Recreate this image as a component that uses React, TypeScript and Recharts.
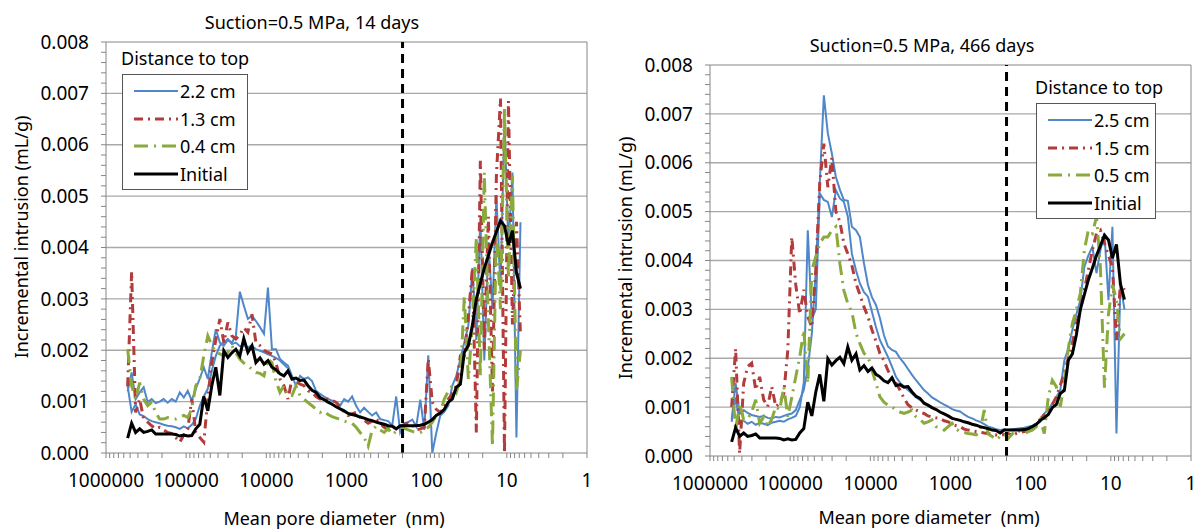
import { LineChart, Line, XAxis, YAxis, ReferenceLine } from 'recharts';

// mean pore diameter (nm), shared by every curve
const diam = [
  537000, 479000, 427000, 380000, 339000, 302000, 269000, 240000, 214000, 191000, 170000, 151000, 135000, 120000, 107000,
  95500, 85100, 75900, 67600, 60300,
  53700, 47900, 42700, 38000, 33900, 30200, 26900, 24000, 21400, 19100, 17000, 15100, 13500, 12000, 10700,
  9550, 8510, 7590, 6760, 6030,
  5370, 4790, 4270, 3800, 3390, 3020, 2690, 2400, 2140, 1910, 1700, 1510, 1350, 1200, 1070,
  955, 851, 759, 676, 603,
  537, 479, 427, 380, 339, 302, 269, 240, 214, 191, 170, 151, 135, 120, 107,
  95.5, 85.1, 75.9, 67.6, 60.3,
  53.7, 47.9, 42.7, 38.0, 33.9, 30.2, 26.9, 24.0, 21.4, 19.1, 17.0, 15.1, 13.5, 12.0, 10.7,
  9.55, 8.51, 7.59, 6.76,
];

// incremental intrusion, in 10^-3 mL/g
const initial = [
  0.29, 0.58, 0.40, 0.47, 0.40, 0.42, 0.45, 0.37, 0.37, 0.37, 0.37, 0.37, 0.36, 0.33, 0.35,
  0.33, 0.34, 0.47, 0.56, 1.10,
  0.82, 1.31, 1.67, 1.12, 1.99, 1.86, 1.95, 2.02, 1.89, 2.23, 1.96, 2.09, 1.76, 1.85, 1.73,
  1.80, 1.67, 1.62, 1.54, 1.50,
  1.60, 1.44, 1.46, 1.41, 1.42, 1.31, 1.22, 1.18, 1.08, 1.04, 0.99, 0.95, 0.90, 0.86, 0.82,
  0.77, 0.75, 0.73, 0.70, 0.68,
  0.65, 0.63, 0.60, 0.58, 0.56, 0.53, 0.52, 0.47, 0.53, 0.53, 0.53, 0.53, 0.53, 0.54, 0.56,
  0.60, 0.65, 0.73, 0.78, 0.85,
  0.99, 1.05, 1.28, 1.34, 1.96, 2.09, 2.48, 3.00, 3.30, 3.60, 3.84, 4.10, 4.30, 4.52, 4.42,
  4.05, 4.33, 3.52, 3.20,
];

// 14 days
const cm22 = [
  1.20, 1.57, 1.05, 1.18, 1.28, 0.99, 1.05, 0.97, 1.00, 1.05, 0.98, 1.05, 1.00, 1.18, 1.08,
  1.21, 1.02, 1.25, 1.45, 1.67,
  1.44, 1.96, 2.41, 2.15, 2.09, 2.20, 2.15, 2.28, 3.14, 2.87, 2.61, 2.67, 2.57, 2.45, 2.32,
  3.22, 2.02, 2.02, 1.83, 1.76,
  1.70, 1.50, 1.31, 1.50, 1.44, 1.47, 1.40, 1.21, 1.15, 1.10, 1.05, 1.02, 0.99, 0.92, 1.05,
  1.00, 1.10, 0.92, 0.79, 0.88,
  0.80, 0.73, 0.79, 0.66, 0.64, 0.62, 0.53, 1.10, 0.40, 0.58, 0.60, 0.65, 0.52, 1.04, 0.45,
  1.90, 0.00, 0.39, 0.73, 0.80,
  0.92, 1.31, 1.50, 1.83, 2.15, 2.48, 3.60, 2.20, 4.60, 1.80, 4.10, 2.80, 5.00, 3.20, 6.50,
  4.00, 5.46, 0.30, 4.49,
];
const cm22b = [
  1.30, 0.80, 0.95, 0.75, 0.72, 0.66, 0.62, 0.60, 0.58, 0.55, 0.53, 0.52, 0.50, 0.47, 0.52,
  0.48, 0.55, 0.66, 0.92, 1.10,
  1.25, 1.60, 1.89, 2.09, 2.15, 2.22, 2.12, 2.15, 2.08, 2.10, 2.06, 2.09, 2.02, 1.99, 1.96,
  1.92, 1.89, 1.85, 1.80, 1.72, 1.65,
];
const cm13 = [
  1.30, 3.53, 0.79, 1.05, 0.66, 0.60, 0.53, 0.47, 0.50, 0.45, 0.40, 0.38, 0.30, 0.21, 0.35,
  0.47, 1.05, 0.40, 0.30, 0.21,
  1.05, 1.76, 2.20, 2.61, 2.15, 2.54, 2.28, 2.22, 2.30, 2.44, 2.35, 2.70, 2.15, 2.09, 2.00,
  1.96, 1.93, 1.76, 1.44, 1.31,
  1.05, 1.44, 1.40, 1.34, 1.31, 1.21, 1.18, 1.10, 1.05, 1.05, 1.05, 1.02, 0.99, 0.90, 0.80,
  0.73, 0.76, 0.79, 0.70, 0.64,
  0.58, 0.62, 0.66, 0.58, 0.50, 0.45, 0.48, 0.52, 0.52, 0.55, 0.58, 0.55, 0.45, 0.47, 0.50,
  1.83, 0.99, 0.85, 0.79, 0.90,
  1.05, 1.15, 1.31, 1.89, 1.90, 2.65, 3.60, 0.40, 5.69, 2.00, 4.60, 1.20, 5.40, 6.90, 0.00,
  6.85, 2.50, 4.50, 2.30,
];
const cm04 = [
  2.02, 1.31, 1.05, 1.37, 1.05, 0.92, 0.99, 0.79, 0.66, 0.66, 0.69, 0.66, 0.66, 0.70, 0.73,
  0.69, 0.86, 1.31, 1.44, 1.89,
  2.28, 2.10, 1.96, 1.93, 1.89, 1.96, 2.09, 1.95, 1.83, 1.75, 1.70, 1.63, 1.57, 1.55, 1.50,
  1.83, 1.76, 1.40, 1.18, 1.31,
  1.12, 1.12, 1.31, 1.12, 1.05, 0.98, 0.92, 0.85, 0.79, 0.82, 0.75, 0.71, 0.68, 0.66, 0.62,
  0.60, 0.58, 0.50, 0.40, 0.30,
  0.13, 0.45, 0.52, 0.45, 0.40, 0.48, 0.36, 0.42, 0.45, 0.48, 0.45, 0.42, 0.40, 0.40, 0.45,
  0.50, 0.60, 0.73, 0.79, 1.05,
  1.20, 1.31, 1.18, 1.44, 3.05, 1.44, 2.50, 4.20, 1.50, 5.46, 2.60, 0.13, 4.40, 2.80, 6.70,
  3.40, 5.40, 1.20, 2.00,
];

// 466 days
const cm25 = [
  0.74, 1.49, 0.87, 0.94, 0.88, 0.84, 0.82, 0.80, 0.82, 0.78, 0.77, 0.80, 0.79, 0.82, 0.85,
  0.87, 0.94, 1.15, 1.35, 1.80,
  2.50, 3.80, 5.60, 7.38, 6.60, 6.19, 5.71, 5.45, 5.24, 5.22, 4.69, 4.62, 4.48, 3.94, 3.50,
  3.25, 3.09, 2.82, 2.47, 2.24,
  2.17, 2.13, 2.00, 1.90, 1.78, 1.66, 1.55, 1.45, 1.35, 1.28, 1.20, 1.15, 1.10, 1.05, 1.01,
  0.96, 0.93, 0.91, 0.85, 0.80,
  0.77, 0.73, 0.70, 0.65, 0.60, 0.58, 0.55, 0.53, 0.54, 0.53, 0.55, 0.56, 0.57, 0.58, 0.60,
  0.62, 0.66, 0.70, 0.87, 0.95,
  1.08, 1.20, 1.35, 1.96, 2.20, 2.58, 2.90, 3.19, 3.87, 4.10, 4.28, 3.74, 4.21, 4.55, 3.19,
  4.69, 0.46, 3.50, 3.00,
];
const cm25b = [
  0.70, 1.20, 0.68, 0.72, 0.66, 0.70, 0.64, 0.68, 0.66, 0.63, 0.68, 0.70, 0.72, 0.70, 0.75,
  0.78, 0.82, 1.00, 1.50, 4.62,
  2.80, 3.00, 5.37, 5.24, 5.20, 4.89, 5.44, 5.27, 5.20, 4.90, 4.14, 3.80, 3.53, 3.35, 3.26,
  2.95, 2.64, 2.37, 2.20, 2.03,
  1.83, 1.62, 1.50, 1.42, 1.35, 1.28, 1.20, 1.15, 1.10, 1.04, 0.98,
];
const cm15 = [
  1.00, 2.20, 0.05, 1.49, 1.83, 1.90, 1.35, 1.62, 1.15, 1.01, 1.42, 1.01, 1.08, 1.28, 2.17,
  4.48, 3.50, 2.90, 3.40, 2.85,
  2.64, 3.80, 5.60, 6.39, 5.50, 6.10, 5.00, 4.80, 4.35, 4.14, 3.90, 3.53, 3.30, 3.05, 2.85,
  2.58, 2.35, 2.10, 1.95, 1.75,
  1.60, 1.49, 1.35, 1.18, 1.05, 0.98, 0.94, 0.90, 0.87, 0.82, 0.80, 0.78, 0.77, 0.72, 0.70,
  0.65, 0.62, 0.60, 0.55, 0.53,
  0.52, 0.50, 0.49, 0.47, 0.46, 0.44, 0.43, 0.42, 0.44, 0.46, 0.42, 0.46, 0.48, 0.50, 0.53,
  0.58, 0.67, 0.75, 0.85, 0.94,
  1.05, 1.21, 1.45, 1.69, 2.00, 2.30, 2.70, 2.99, 3.40, 3.80, 4.21, 4.55, 4.62, 4.35, 4.10,
  3.87, 2.37, 3.53, 3.40,
];
const cm05 = [
  1.62, 0.53, 1.08, 0.74, 0.76, 0.90, 1.15, 0.67, 0.80, 0.60, 0.75, 1.01, 0.94, 1.42, 0.80,
  1.20, 1.62, 2.03, 2.58, 1.49,
  3.80, 4.08, 4.35, 4.48, 4.48, 4.62, 4.69, 3.94, 3.39, 3.12, 2.95, 2.51, 2.30, 2.10, 2.03,
  1.76, 1.49, 1.21, 1.10, 1.04,
  1.01, 0.94, 0.90, 0.87, 0.90, 0.94, 0.80, 0.75, 0.67, 0.70, 0.74, 0.60, 0.58, 0.53, 0.60,
  0.67, 0.55, 0.50, 0.48, 0.46,
  0.45, 0.43, 0.50, 0.94, 0.45, 0.40, 0.33, 0.40, 0.46, 0.36, 0.45, 0.53, 0.50, 0.46, 0.50,
  0.53, 0.60, 0.74, 0.46, 1.20,
  1.55, 1.42, 1.01, 1.50, 2.20, 2.71, 3.00, 3.33, 4.21, 4.62, 4.55, 4.89, 3.87, 1.40, 2.90,
  3.50, 3.20, 2.40, 2.50,
];

const decades = [1, 10, 100, 1000, 10000, 100000, 1000000];
const xTicks = [...decades.slice(0, 6).flatMap((d) => [1, 2, 3, 4, 5, 6, 7, 8, 9].map((m) => m * d)), 1000000];
const yMajor = [0, 0.001, 0.002, 0.003, 0.004, 0.005, 0.006, 0.007, 0.008];
const yTicks = Array.from({ length: 41 }, (_, i) => i * 0.0002);
const yGrid = [0.001, 0.002, 0.003, 0.004, 0.005, 0.006, 0.007];
const boundary = 200; // nm, dashed line

const FONT = "'Noto Sans', 'DejaVu Sans', sans-serif";
const BLUE = '#4f87c9';
const RED = '#b33b3b';
const GREEN = '#8aaa3c';
const RED_DASH = '9 5 2 5';
const GREEN_DASH = '14 6 2 6';

const v = (a: number[], i: number) => (a[i] == null ? null : a[i] / 1000);

const rows14 = diam.map((d, i) => ({ d, a: v(cm22, i), a2: v(cm22b, i), b: v(cm13, i), c: v(cm04, i), init: v(initial, i) }));
const rows466 = diam.map((d, i) => ({ d, a: v(cm25, i), a2: v(cm25b, i), b: v(cm15, i), c: v(cm05, i), init: v(initial, i) }));

const xFmt = (t: number) => (decades.includes(t) ? String(t) : '');
const yFmt = (t: number) => (yMajor.some((m) => Math.abs(m - t) < 1e-9) ? t.toFixed(3) : '');

function Panel({ data, width, margin }: { data: typeof rows14; width: number; margin: { top: number; right: number; bottom: number; left: number } }) {
  const tick = { fill: '#000', fontSize: 19, fontFamily: FONT };
  return (
    <LineChart width={width} height={530} data={data} margin={margin}>
      <XAxis
        dataKey="d"
        type="number"
        scale="log"
        domain={[1, 1000000]}
        reversed
        ticks={xTicks}
        interval={0}
        tickFormatter={xFmt}
        tick={tick}
        tickSize={5}
        tickMargin={16}
        height={30}
        stroke="#868686"
        allowDataOverflow
      />
      <YAxis
        type="number"
        domain={[0, 0.008]}
        ticks={yTicks}
        interval={0}
        tickFormatter={yFmt}
        tick={tick}
        tickSize={5}
        tickMargin={12}
        width={100}
        stroke="#868686"
        allowDataOverflow
      />
      {yGrid.map((g) => (
        <ReferenceLine key={g} y={g} stroke="#a9a9a9" strokeWidth={1.3} />
      ))}
      <ReferenceLine y={0.008} stroke="#868686" />
      <ReferenceLine x={1} stroke="#868686" />
      <Line dataKey="a" stroke={BLUE} strokeWidth={2} dot={false} isAnimationActive={false} />
      <Line dataKey="a2" stroke={BLUE} strokeWidth={2} dot={false} isAnimationActive={false} />
      <Line dataKey="b" stroke={RED} strokeWidth={3} strokeDasharray={RED_DASH} dot={false} isAnimationActive={false} />
      <Line dataKey="c" stroke={GREEN} strokeWidth={3} strokeDasharray={GREEN_DASH} dot={false} isAnimationActive={false} />
      <Line dataKey="init" stroke="#000" strokeWidth={3} dot={false} isAnimationActive={false} />
      <ReferenceLine x={boundary} stroke="#000" strokeWidth={3} strokeDasharray="9 6" />
    </LineChart>
  );
}

function LegendBox({ left, top, width, labels }: { left: number; top: number; width: number; labels: string[] }) {
  const styles = [
    { stroke: BLUE, w: 2, dash: undefined },
    { stroke: RED, w: 3, dash: RED_DASH },
    { stroke: GREEN, w: 3, dash: GREEN_DASH },
    { stroke: '#000', w: 3, dash: undefined },
  ];
  return (
    <div style={{ position: 'absolute', left, top, fontFamily: FONT, fontSize: 18 }}>
      <div style={{ position: 'absolute', left: -1, top: -28, whiteSpace: 'nowrap' }}>Distance to top</div>
      <div style={{ position: 'absolute', left: 0, top: 0, width, height: 114, border: '1.5px solid #555', background: '#fff' }}>
        {labels.map((l, i) => (
          <div key={l} style={{ position: 'absolute', left: 11, top: 3 + i * 27.5, height: 26, display: 'flex', alignItems: 'center' }}>
            <svg width={44} height={10}>
              <line x1={0} y1={5} x2={44} y2={5} stroke={styles[i].stroke} strokeWidth={styles[i].w} strokeDasharray={styles[i].dash} />
            </svg>
            <span style={{ marginLeft: 2, whiteSpace: 'nowrap' }}>{l}</span>
          </div>
        ))}
      </div>
    </div>
  );
}

const text = { position: 'absolute' as const, fontFamily: FONT, fontSize: 18, whiteSpace: 'nowrap' as const, color: '#000' };

export default function App() {
  return (
    <div style={{ position: 'absolute', left: 0, top: 0, width: 1201, height: 530, background: '#fff' }}>
      <div style={{ position: 'absolute', left: 0, top: 0 }}>
        <Panel data={rows14} width={600} margin={{ top: 42, right: 13, bottom: 47, left: 6 }} />
      </div>
      <div style={{ position: 'absolute', left: 600, top: 0 }}>
        <Panel data={rows466} width={601} margin={{ top: 65, right: 10, bottom: 44, left: 10 }} />
      </div>

      <div style={{ ...text, left: 312, top: 22, transform: 'translate(-50%, -50%)' }}>Suction=0.5 MPa, 14 days</div>
      <div style={{ ...text, left: 922, top: 45, transform: 'translate(-50%, -50%)' }}>Suction=0.5 MPa, 466 days</div>

      <div style={{ ...text, left: 334, top: 518, transform: 'translate(-50%, -50%)' }}>Mean pore diameter&nbsp; (nm)</div>
      <div style={{ ...text, left: 929, top: 517, transform: 'translate(-50%, -50%)' }}>Mean pore diameter&nbsp; (nm)</div>

      <div style={{ ...text, left: 21, top: 237, transform: 'translate(-50%, -50%) rotate(-90deg)' }}>Incremental intrusion (mL/g)</div>
      <div style={{ ...text, left: 625, top: 258, transform: 'translate(-50%, -50%) rotate(-90deg)' }}>Incremental intrusion (mL/g)</div>

      <LegendBox left={122} top={74} width={124} labels={['2.2 cm', '1.3 cm', '0.4 cm', 'Initial']} />
      <LegendBox left={1036} top={103} width={118} labels={['2.5 cm', '1.5 cm', '0.5 cm', 'Initial']} />
    </div>
  );
}
